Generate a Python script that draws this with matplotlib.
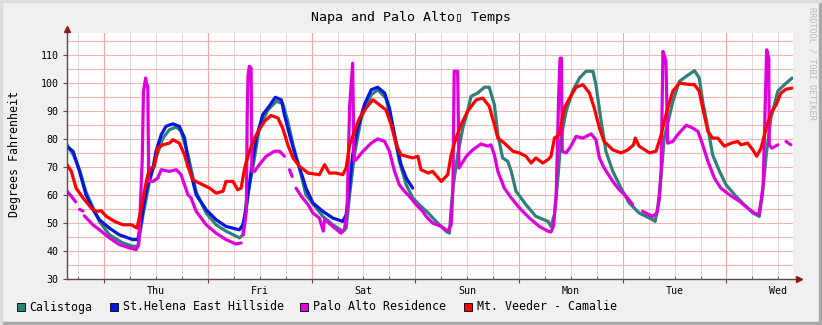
import numpy as np
import matplotlib
matplotlib.use('Agg')
import matplotlib.pyplot as plt
from matplotlib.patches import Rectangle
from matplotlib.transforms import blended_transform_factory

plt.rcParams['font.family'] = ['DejaVu Sans Mono', 'DejaVu Sans']

nan = np.nan

# time in hours since Thursday 00:00, temperatures in deg F
calistoga_t = [-8.6, -7.1, -5.7, -4.2, -2.6, -1.1, 1.2, 4.3, 6.6, 7.8, 9.0, 10.5, 12.0, 13.6, 15.1, 16.7, 17.8, 19.4,
               21.3, 23.6, 25.9, 28.2, 31.3, 32.1, 32.9, 34.4, 35.9, 37.9, 39.8, 41.3, 42.5, 43.7, 45.2, 46.7,
               50.6, 52.9, 55.2, 56.0, 56.8, 57.9, 59.5, 61.8, 63.3, 65.2, 66.8, 68.3, 69.9, 71.4,
               72.9, 75.0, 76.8, 79.1, 79.9, 80.3, 80.8, 81.8, 83.0, 84.1, 84.9, 86.5, 88.0, 89.1, 90.3, 91.1,
               92.2, 93.4, 94.2, 95.3, 97.6, 99.9, 102.7, 103.4, 104.2, 105.0, 105.7, 106.9, 108.4, 110.0, 111.5,
               113.1, 113.8, 115.0, 116.1, 117.7, 119.6, 121.5, 123.8, 125.4, 126.9, 127.5, 128.1, 128.9, 129.6,
               130.0, 131.6, 133.1, 134.7, 136.6, 137.7, 138.5, 139.7, 140.8, 142.4, 143.9, 146.2, 148.1, 150.1,
               151.6, 152.4, 153.2, 154.3, 155.9, 157.4, 159.2]
calistoga_v = [78.0, 74.2, 69.0, 61.0, 55.5, 50.5, 45.7, 42.8, 41.6, 41.6, 52.9, 64.8, 73.2, 80.3, 83.3, 84.3, 82.7, 74.3,
               61.0, 53.5, 49.3, 47.0, 44.6, 45.7, 57.7, 69.6, 83.9, 90.4, 93.4, 92.8, 86.3, 77.9, 69.6, 60.0,
               52.3, 49.3, 47.0, 48.1, 60.0, 74.3, 87.5, 95.8, 97.6, 94.6, 83.9, 72.0, 63.6, 58.9,
               56.5, 53.5, 50.5, 47.0, 46.3, 55.3, 63.6, 74.3, 83.9, 89.9, 95.2, 96.5, 98.5, 98.5, 92.2, 81.5,
               73.2, 72.0, 68.4, 61.3, 56.5, 52.3, 50.5, 48.7, 52.9, 66.0, 80.3, 89.9, 97.1, 101.8, 104.2,
               104.2, 99.4, 86.3, 75.6, 68.4, 62.4, 57.1, 53.5, 52.3, 51.1, 50.5, 55.3, 67.2, 80.3,
               83.0, 93.4, 100.6, 102.4, 104.4, 101.8, 93.4, 83.9, 74.3, 68.4, 63.6, 59.5, 56.5, 53.5,
               52.3, 61.3, 74.3, 87.5, 97.1, 99.4, 101.8]

st_helena_t = [-8.6, -7.2, -5.7, -4.2, -2.6, -1.1, 1.2, 3.5, 6.6, 7.8, 8.6, 9.3, 10.1, 11.3, 12.0, 13.2, 14.3, 15.9,
               17.4, 18.6, 19.7, 21.3, 23.6, 25.9, 28.2, 31.3, 32.1, 32.9, 34.0, 35.2, 36.7, 38.2, 39.6, 41.0,
               41.7, 42.9, 44.4, 46.0, 46.7, 48.3, 50.6, 52.9, 55.2, 56.0, 56.8, 57.5, 58.7, 60.2, 61.8, 63.3,
               64.9, 66.0, 67.2, 68.7, 69.9, 71.4]
st_helena_v = [77.2, 75.6, 68.4, 60.0, 54.7, 51.1, 48.1, 45.7, 44.0, 44.0, 50.5, 57.7, 63.6, 69.6, 75.6, 81.5, 84.5, 85.4,
               84.5, 80.3, 70.0, 60.0, 54.7, 51.1, 48.7, 47.5, 49.3, 55.3, 68.4, 80.3, 88.7, 91.7, 94.9, 94.0,
               88.7, 81.5, 73.2, 66.0, 62.4, 57.1, 54.1, 51.7, 50.5, 52.9, 63.6, 74.3, 83.9, 92.2, 97.6, 98.5,
               96.4, 91.1, 81.5, 70.8, 66.0, 62.4]

palo_alto_t = [-8.6, -7.6, -6.6, -6.2, -5.7, -4.9, -4.7, -4.6, -2.6, -1.1, 1.2, 3.5, 5.9, 7.4, 8.0, 8.8, 9.1, 9.6,
               9.9, 10.1, 10.3, 11.3, 12.4, 13.2, 15.1, 16.7, 17.8, 19.4, 20.1, 21.3, 23.6, 25.9, 28.2, 30.5, 31.7,
               32.0, 32.2, 32.9, 33.1, 33.3, 33.6, 34.0, 34.2, 34.8, 35.9, 37.5, 39.4, 40.6, 41.7, 42.3, 42.9, 43.5,
               44.0, 44.4, 45.6, 47.2, 48.3, 49.8, 50.7, 51.0, 52.9, 54.8, 55.6, 56.2, 56.8, 57.5, 57.8, 58.3,
               59.9, 61.8, 63.3, 64.9, 66.0, 67.2, 68.3, 69.5, 70.6, 72.2, 73.7, 74.5, 76.0, 78.0, 79.5, 80.3,
               80.7, 81.0, 81.8, 82.1, 82.6, 83.8, 85.3, 87.2, 88.8, 89.5, 90.3, 91.1, 92.6, 94.2, 96.1, 98.4,
               100.7, 102.7, 103.4, 104.0, 104.6, 105.2, 105.5, 105.8, 106.0, 106.9, 108.0, 109.2, 110.8, 112.7,
               113.8, 114.6, 115.7, 117.7, 119.2, 120.8, 122.3, 123.5, 124.6, 126.9, 127.9, 128.5, 128.9, 129.3,
               129.6, 130.0, 130.4, 131.6, 132.7, 134.7, 136.2, 137.4, 138.5, 139.7, 141.2, 142.7, 144.7, 147.0,
               148.9, 150.5, 151.5, 152.0, 152.5, 153.0, 153.3, 153.8, 153.9, 154.5, 155.9, 156.4, 157.0, 157.4,
               157.8, 158.9]
palo_alto_v = [61.3, 59.5, 57.5, nan, 54.8, 54.2, nan, 52.5, 49.3, 47.5, 44.6, 42.2, 41.0, 40.4, 42.2, 72.0, 97.0, 101.8,
               98.8, 99.0, 64.8, 64.8, 66.0, 69.0, 68.4, 69.0, 67.2, 60.0, 58.9, 54.1, 49.3, 46.3, 44.0, 42.4, 42.8,
               nan, 45.7, 54.1, 88.7, 103.0, 106.0, 105.4, 68.4, 68.4, 70.8, 73.8, 75.6, 75.6, 73.8, nan, 69.0, 66.6,
               nan, 62.4, 59.5, 56.5, 53.5, 51.7, 47.0, 51.2, 48.7, 46.3, 47.5, 54.1, 91.7, 107.1, 72.0, 72.6,
               75.6, 78.5, 80.0, 79.1, 75.6, 68.4, 63.6, 61.3, 59.5, 56.5, 54.1, 52.3, 49.9, 48.7, 47.0, 49.3,
               62.4, 104.2, 104.2, 69.6, 70.8, 73.8, 76.1, 78.2, 77.4, 77.9, 74.3, 68.4, 62.4, 58.9, 55.3, 51.7,
               48.7, 47.0, 46.7, 49.0, 60.0, 97.0, 108.9, 108.9, 75.6, 75.0, 77.4, 80.9, 80.3, 81.8,
               79.7, 73.2, 69.6, 64.8, 61.8, 59.5, 56.5, nan, 54.1, 52.3, 53.5, 58.9, 69.6, 111.3,
               110.0, 107.8, 78.5, 79.1, 81.5, 84.9, 83.9, 82.7, 77.9, 72.0, 66.0, 62.4, 60.0, 57.7,
               55.3, 53.5, 52.9, 57.7, 63.6, 94.6, 111.9, 108.9, 77.9, 76.7, 77.9, nan, 80.9, nan,
               79.1, 77.9]

mt_veeder_t = [-8.6, -7.6, -6.5, -4.9, -3.0, -1.9, -0.7, 0.5, 2.4, 4.3, 6.3, 7.6, 8.6, 9.3, 10.1, 10.9, 11.6, 12.4,
               13.6, 15.1, 15.9, 17.4, 18.6, 19.4, 20.5, 22.8, 24.4, 25.9, 27.5, 28.2, 29.8, 30.9, 31.7, 32.5,
               33.6, 35.2, 37.1, 38.6, 40.2, 41.3, 42.5, 43.7, 45.2, 47.2, 49.8, 51.0, 52.1, 53.7, 55.2, 56.0,
               56.8, 57.9, 59.1, 60.6, 62.2, 63.7, 65.2, 66.4, 67.6, 68.7, 69.9, 71.4, 72.6, 73.3, 75.0, 76.0,
               78.0, 79.5, 80.3, 81.4, 82.6, 84.1, 86.1, 87.6, 89.1, 90.3, 91.1, 92.6, 94.6, 96.1, 97.6, 98.8,
               99.9, 101.5, 102.7, 103.4, 104.2, 105.3, 106.5, 107.7, 109.2, 110.8, 112.3, 113.4, 114.6, 115.7,
               117.7, 119.6, 121.2, 122.5, 122.9, 123.8, 126.2, 127.7, 128.9, 129.6, 130.5, 131.6, 133.1, 134.7,
               136.6, 137.7, 138.5, 139.7, 140.8, 142.0, 143.5, 145.1, 146.6, 147.4, 148.9, 150.1, 151.0, 152.0,
               153.2, 154.3, 155.5, 156.6, 157.8, 159.2]
mt_veeder_v = [70.8, 68.4, 62.4, 58.9, 55.3, 54.1, 54.3, 52.3, 50.5, 49.3, 49.3, 48.1, 55.3, 61.3, 67.2, 69.6, 70.2, 76.7,
               77.9, 78.5, 79.7, 78.5, 74.3, 70.0, 65.4, 63.6, 62.4, 60.6, 61.3, 64.8, 64.8, 61.8, 62.4, 69.6,
               75.6, 81.5, 86.3, 88.4, 87.5, 83.9, 77.9, 73.2, 70.2, 67.8, 67.2, 70.8, 67.8, 67.8, 67.2, 69.6,
               77.9, 82.7, 87.5, 91.1, 94.0, 92.2, 90.4, 85.1, 77.9, 74.3, 73.8, 73.2, 73.8, 69.0, 67.8, 68.4,
               64.8, 67.2, 74.3, 80.3, 85.1, 89.9, 94.0, 94.6, 91.7, 85.1, 80.3, 78.5, 75.6, 75.0, 73.8, 71.4,
               73.2, 71.4, 72.6, 73.8, 80.3, 81.5, 91.1, 94.6, 98.5, 99.4, 96.4, 91.1, 83.9, 79.1,
               76.1, 75.0, 76.1, 77.9, 80.3, 77.4, 75.0, 75.6, 81.5, 86.3, 91.5, 97.1, 100.0, 99.6,
               99.4, 97.1, 91.1, 82.7, 80.3, 80.3, 77.4, 78.5, 79.1, 77.9, 78.5, 76.1, 73.8, 76.7,
               83.9, 89.3, 92.2, 96.4, 97.8, 98.2]

series = [
    ('Calistoga', calistoga_t, calistoga_v, '#2E8078'),
    ('St.Helena East Hillside', st_helena_t, st_helena_v, '#0018E0'),
    ('Palo Alto Residence', palo_alto_t, palo_alto_v, '#DD00DD'),
    ('Mt. Veeder - Camalie', mt_veeder_t, mt_veeder_v, '#FF0000'),
]
day_names = ['Thu', 'Fri', 'Sat', 'Sun', 'Mon', 'Tue', 'Wed']
y_ticks = [30, 40, 50, 60, 70, 80, 90, 100, 110]

W, H = 822, 325
fig = plt.figure(figsize=(W / 100, H / 100), dpi=100)
fig.patch.set_facecolor('#F0F0F0')

# shaded frame on the right and bottom
fig.add_artist(Rectangle((1 - 3 / W, 0), 3 / W, 1, transform=fig.transFigure, color='#A8A8A8', zorder=0))
fig.add_artist(Rectangle((0, 0), 1, 3 / H, transform=fig.transFigure, color='#A8A8A8', zorder=0))
fig.add_artist(Rectangle((0, 1 - 2 / H), 1, 2 / H, transform=fig.transFigure, color='#DCDCDC', zorder=0))
fig.add_artist(Rectangle((0, 0), 2 / W, 1, transform=fig.transFigure, color='#DCDCDC', zorder=0))

ax = fig.add_axes([67 / W, 46.3 / H, 726 / W, 246 / H])
ax.set_facecolor('white')
ax.set_xlim(-8.6, 159.4)
ax.set_ylim(30, 118)

ax.set_xticks(np.arange(0, 160, 24))
ax.set_xticks(np.arange(-6, 160, 6), minor=True)
ax.set_xticklabels([])
ax.set_yticks(y_ticks)
ax.set_yticks(np.arange(35, 118, 5), minor=True)
ax.set_yticklabels([str(v) for v in y_ticks], fontsize=7.2)

ax.grid(which='minor', axis='x', color='#DCDCDC', lw=0.8)
ax.grid(which='major', axis='x', color='#F2A8A8', lw=0.8)
ax.grid(which='both', axis='y', color='#F2B4B4', lw=0.8)
ax.set_axisbelow(True)

ax.tick_params(axis='y', which='major', length=3, direction='out', color='#604848', pad=3)
ax.tick_params(axis='y', which='minor', length=0)
ax.tick_params(axis='x', which='major', length=3, direction='out', color='#604848')
ax.tick_params(axis='x', which='minor', length=2, direction='in', color='#604848')

for s in ax.spines.values():
    s.set_visible(False)

# axes with arrow heads
ax.plot([0, 1.006], [0, 0], transform=ax.transAxes, color='#604848', lw=1, clip_on=False, zorder=5)
ax.plot([0, 0], [0, 1.012], transform=ax.transAxes, color='#604848', lw=1, clip_on=False, zorder=5)
ax.plot([1.008], [0], transform=ax.transAxes, marker='>', ms=4, color='#8B1A1A', clip_on=False, zorder=6)
ax.plot([0], [1.016], transform=ax.transAxes, marker='^', ms=4, color='#8B1A1A', clip_on=False, zorder=6)

for name, t, v, c in series:
    ax.plot(t, np.array(v, dtype=float), color=c, lw=2.3, solid_joinstyle='round', solid_capstyle='round', zorder=3)

# day names at noon
trans = blended_transform_factory(ax.transData, ax.transAxes)
for i, d in enumerate(day_names):
    ax.text(12 + 24 * i, -0.05, d, transform=trans, ha='center', va='center', fontsize=7.2)

fig.text(411 / W, 1 - 17 / H, 'Napa and Palo Alto\u25af Temps', ha='center', va='center', fontsize=9.5)
fig.text(15 / W, 1 - 154 / H, 'Degrees Fahrenheit', rotation=90, ha='center', va='center', fontsize=8.4)
fig.text(812 / W, 1 - 7 / H, 'RRDTOOL / TOBI OETIKER', rotation=270, ha='center', va='top',
         fontsize=6.1, color='#B8B8B8')

# legend row
leg_x = [17, 110, 300, 464]
for (name, t, v, c), lx in zip(series, leg_x):
    fig.add_artist(Rectangle((lx / W, 1 - 311 / H), 8 / W, 8 / H, transform=fig.transFigure,
                             facecolor=c, edgecolor='black', lw=0.6))
    fig.text((lx + 12.5) / W, 1 - 307 / H, name, ha='left', va='center', fontsize=8.4)

fig.savefig('out.png', dpi=100, facecolor=fig.get_facecolor())
